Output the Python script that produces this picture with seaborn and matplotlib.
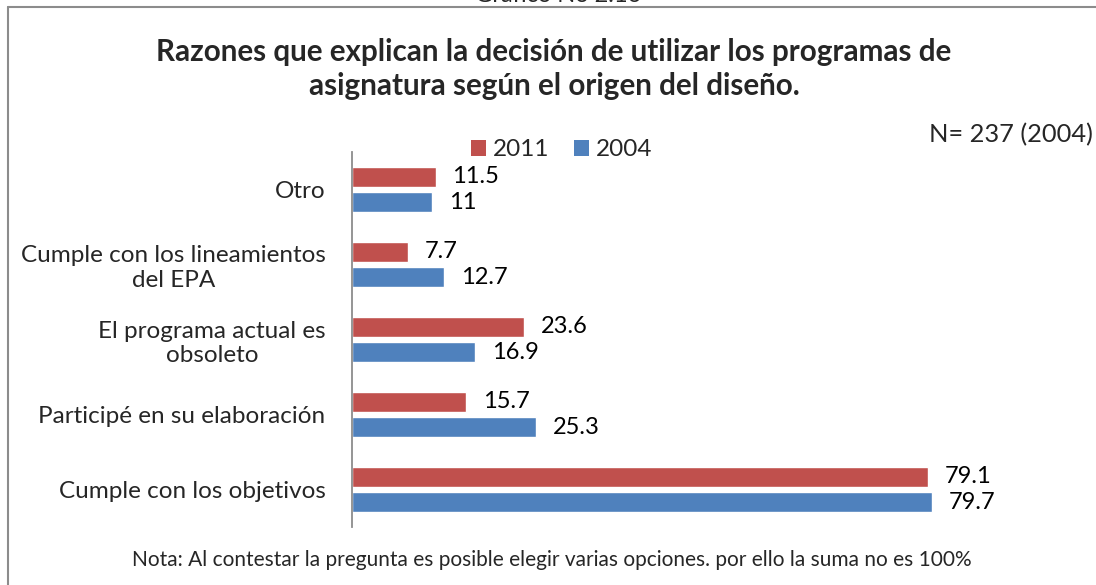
# Razones para utilizar los programas de asignatura, 2011 vs 2004
import matplotlib
matplotlib.use("Agg")
import matplotlib.pyplot as plt
from matplotlib.patches import Patch
from matplotlib.lines import Line2D
import seaborn as sns
import pandas as pd

categorias = [
    "Otro",
    "Cumple con los lineamientos\ndel EPA",
    "El programa actual es\nobsoleto",
    "Participé en su elaboración",
    "Cumple con los objetivos",
]
valores_2011 = [11.5, 7.7, 23.6, 15.7, 79.1]
valores_2004 = [11, 12.7, 16.9, 25.3, 79.7]
etiquetas_2011 = ["11.5", "7.7", "23.6", "15.7", "79.1"]
etiquetas_2004 = ["11", "12.7", "16.9", "25.3", "79.7"]
series = ["2011", "2004"]
colores = {"2011": "#C0504D", "2004": "#4F81BD"}

df = pd.DataFrame({
    "categoria": categorias * 2,
    "valor": valores_2011 + valores_2004,
    "serie": ["2011"] * len(categorias) + ["2004"] * len(categorias),
})

sns.set_style("white")
plt.rcParams["font.family"] = ["Lato", "DejaVu Sans"]

W, H = 1096, 585
fig = plt.figure(figsize=(W / 100, H / 100), dpi=100)
ax = fig.add_axes([352 / W, 1 - 527 / H, 648 / W, 375 / H])

sns.barplot(data=df, y="categoria", x="valor", hue="serie", order=categorias,
            hue_order=series, palette=colores, orient="h", width=0.667, gap=0.2,
            ax=ax, legend=False, saturation=1)

ax.set_xlim(0, 648 / 7.277)
ax.set_xlabel("")
ax.set_ylabel("")
ax.set_xticks([])
ax.tick_params(axis="y", length=0, pad=19, labelsize=17.5)
for lbl in ax.get_yticklabels():
    lbl.set_horizontalalignment("right")
    lbl.set_multialignment("center")
for s in ["top", "right", "bottom"]:
    ax.spines[s].set_visible(False)
ax.spines["left"].set_color("#8c8c8c")
ax.spines["left"].set_linewidth(1.3)

# etiquetas de valor
for cont, labs in zip(ax.containers, [etiquetas_2011, etiquetas_2004]):
    ax.bar_label(cont, labels=labs, padding=12, fontsize=17, color="black")

# leyenda
handles = [Patch(facecolor=colores[s], edgecolor="none") for s in series]
fig.legend(handles, series, loc="center", bbox_to_anchor=(562 / W, 1 - 150 / H),
           ncol=2, frameon=False, fontsize=17.5, handlelength=0.6, handleheight=0.6,
           handletextpad=0.3, columnspacing=1.0)

# titulo y textos
fig.text(554 / W, 1 - 69 / H,
         "Razones que explican la decisión de utilizar los programas de\nasignatura según el origen del diseño.",
         ha="center", va="center", fontsize=21.3, fontweight="bold", linespacing=1.3)
fig.text(1093 / W, 1 - 135 / H, "N= 237 (2004)", ha="right", va="center", fontsize=18.3)
fig.text(552 / W, 1 - 560 / H,
         "Nota: Al contestar la pregunta es posible elegir varias opciones. por ello la suma no es 100%",
         ha="center", va="center", fontsize=15)
fig.text(558 / W, 1 - 2 / H, "Gráfico No 2.16", ha="center", va="baseline", fontsize=17)

# marco del grafico
fig.add_artist(Line2D([8 / W, 8 / W], [0, 1 - 7 / H], color="#8c8c8c", lw=1.5))
fig.add_artist(Line2D([8 / W, 1], [1 - 7 / H, 1 - 7 / H], color="#8c8c8c", lw=1.5))

fig.savefig("out.png", dpi=100)
